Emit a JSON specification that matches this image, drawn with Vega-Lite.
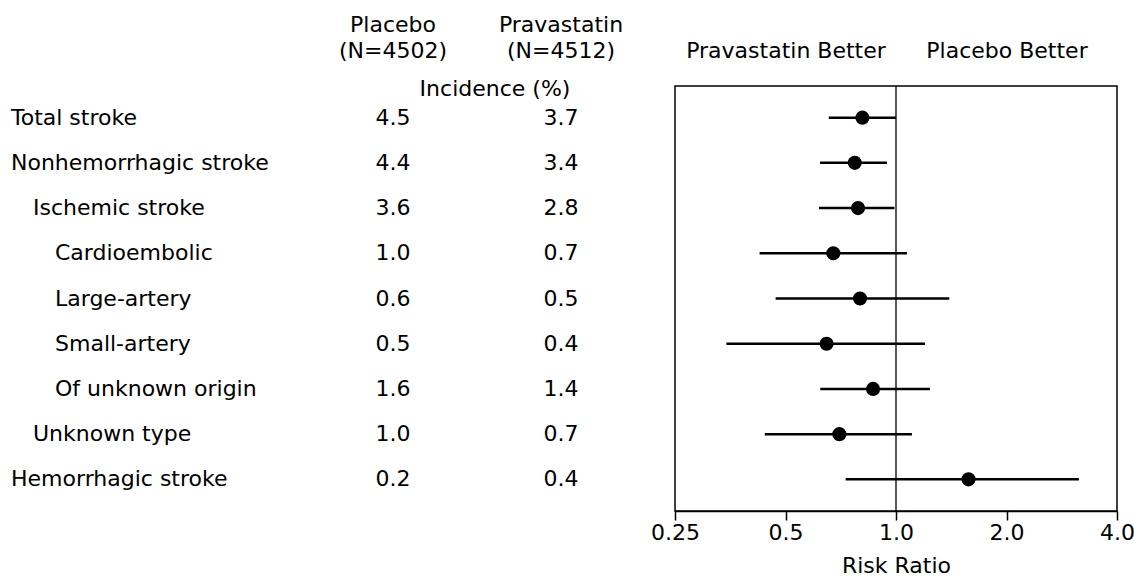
{
  "$schema": "https://vega.github.io/schema/vega-lite/v6.json",
  "padding": {"left": 11, "top": 13, "right": 0, "bottom": 0},
  "bounds": "flush",
  "spacing": 30,
  "config": {
    "view": {"stroke": null},
    "font": "DejaVu Sans",
    "text": {"font": "DejaVu Sans", "fontSize": 22, "color": "#000"},
    "axis": {
      "labelFont": "DejaVu Sans", "titleFont": "DejaVu Sans",
      "labelColor": "#000", "titleColor": "#000",
      "labelFontSize": 22, "titleFontSize": 22, "titleFontWeight": "normal",
      "grid": false, "labelLimit": 0, "labelFlush": false,
      "domainColor": "#000", "tickColor": "#000"
    }
  },
  "datasets": {
    "rows": [
      {"outcome": "Total stroke", "level": 0, "Placebo": 4.5, "Pravastatin": 3.7, "rr": 0.81, "lo": 0.656, "hi": 1.0},
      {"outcome": "Nonhemorrhagic stroke", "level": 0, "Placebo": 4.4, "Pravastatin": 3.4, "rr": 0.772, "lo": 0.621, "hi": 0.945},
      {"outcome": "Ischemic stroke", "level": 1, "Placebo": 3.6, "Pravastatin": 2.8, "rr": 0.788, "lo": 0.617, "hi": 0.99},
      {"outcome": "Cardioembolic", "level": 2, "Placebo": 1.0, "Pravastatin": 0.7, "rr": 0.675, "lo": 0.425, "hi": 1.071},
      {"outcome": "Large-artery", "level": 2, "Placebo": 0.6, "Pravastatin": 0.5, "rr": 0.798, "lo": 0.47, "hi": 1.397},
      {"outcome": "Small-artery", "level": 2, "Placebo": 0.5, "Pravastatin": 0.4, "rr": 0.647, "lo": 0.345, "hi": 1.199},
      {"outcome": "Of unknown origin", "level": 2, "Placebo": 1.6, "Pravastatin": 1.4, "rr": 0.866, "lo": 0.622, "hi": 1.237},
      {"outcome": "Unknown type", "level": 1, "Placebo": 1.0, "Pravastatin": 0.7, "rr": 0.701, "lo": 0.439, "hi": 1.105},
      {"outcome": "Hemorrhagic stroke", "level": 0, "Placebo": 0.2, "Pravastatin": 0.4, "rr": 1.576, "lo": 0.729, "hi": 3.15}
    ]
  },
  "hconcat": [
    {
      "width": 268,
      "height": 425,
      "data": {"name": "rows"},
      "mark": {"type": "text", "align": "left", "baseline": "middle", "fontSize": 22},
      "encoding": {
        "x": {"field": "level", "type": "quantitative", "scale": {"domain": [0, 2], "range": [0, 44]}, "axis": null},
        "y": {"field": "outcome", "type": "nominal", "sort": null, "scale": {"type": "point", "padding": 0.7}, "axis": null},
        "text": {"field": "outcome", "type": "nominal"}
      }
    },
    {
      "width": 336,
      "height": 425,
      "data": {"name": "rows"},
      "transform": [{"fold": ["Placebo", "Pravastatin"], "as": ["arm", "incidence"]}],
      "mark": {"type": "text", "align": "center", "baseline": "middle", "fontSize": 22},
      "encoding": {
        "x": {
          "field": "arm", "type": "nominal", "sort": ["Placebo", "Pravastatin"],
          "scale": {"type": "band", "paddingInner": 0, "paddingOuter": 0},
          "axis": {
            "orient": "top", "domain": false, "ticks": false, "labelAngle": 0,
            "labelPadding": 50, "labelLineHeight": 26,
            "labelExpr": "datum.value == 'Placebo' ? ['Placebo', '(N=4502)'] : ['Pravastatin', '(N=4512)']",
            "title": "Incidence (%)", "titleX": 185.5, "titleY": 9, "titleAlign": "center",
            "titleBaseline": "alphabetic", "titleAngle": 0
          }
        },
        "y": {"field": "outcome", "type": "nominal", "sort": null, "scale": {"type": "point", "padding": 0.7}, "axis": null},
        "text": {"field": "incidence", "type": "quantitative", "format": ".1f"}
      }
    },
    {
      "width": 442,
      "height": 425,
      "view": {"stroke": "#000", "strokeWidth": 1.5},
      "layer": [
        {
          "data": {"values": [{"ref": 1}]},
          "mark": {"type": "rule", "color": "#000", "strokeWidth": 1.3},
          "encoding": {
            "x": {
              "field": "ref", "type": "quantitative",
              "scale": {"type": "log", "domain": [0.25, 4], "nice": false},
              "axis": {
                "orient": "top", "values": [0.5, 2], "domain": false, "ticks": false,
                "labelPadding": 24, "title": null,
                "labelExpr": "datum.value < 1 ? 'Pravastatin Better' : 'Placebo Better'"
              }
            }
          }
        },
        {
          "data": {"name": "rows"},
          "mark": {"type": "rule", "color": "#000", "strokeWidth": 2.5},
          "encoding": {
            "x": {
              "field": "lo", "type": "quantitative",
              "axis": {
                "orient": "bottom", "values": [0.25, 0.5, 1, 2, 4],
                "labelExpr": "datum.value == 0.25 ? '0.25' : format(datum.value, '.1f')",
                "tickSize": 9, "tickWidth": 1.5, "domainWidth": 1.5, "labelPadding": 2,
                "title": "Risk Ratio", "titlePadding": 12
              }
            },
            "x2": {"field": "hi"},
            "y": {"field": "outcome", "type": "nominal", "sort": null, "scale": {"type": "point", "padding": 0.7}, "axis": null}
          }
        },
        {
          "data": {"name": "rows"},
          "mark": {"type": "point", "filled": true, "color": "#000", "size": 200, "opacity": 1},
          "encoding": {
            "x": {"field": "rr", "type": "quantitative", "axis": null},
            "y": {"field": "outcome", "type": "nominal", "sort": null, "axis": null}
          }
        }
      ],
      "resolve": {"axis": {"x": "independent"}}
    }
  ]
}
